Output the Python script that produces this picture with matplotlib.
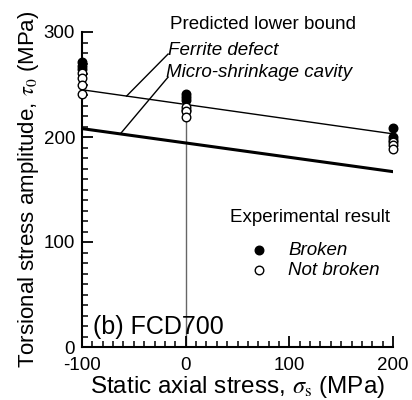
import matplotlib
matplotlib.use("Agg")
import matplotlib.pyplot as plt
import numpy as np

plt.rcParams['font.family'] = ['Liberation Sans', 'DejaVu Sans']
plt.rcParams['mathtext.fontset'] = 'stix'
plt.rcParams['axes.unicode_minus'] = False

# experimental data (MPa)
broken_x = [-100, -100, -100, 0, 0, 0, 0, 200, 200, 200]
broken_y = [271, 268, 265, 241, 238, 235, 226, 209, 200, 197]
notbroken_x = [-100, -100, -100, -100, 0, 0, 0, 200, 200, 200]
notbroken_y = [261, 256, 250, 241, 229, 225, 219, 195, 192, 189]

# predicted lower bounds
bound_x = [-100, 200]
ferrite_y = [245, 203]
shrink_y = [208, 167]

fig = plt.figure(figsize=(4.12, 4.0), dpi=100)
ax = fig.add_axes([0.199, 0.1325, 0.755, 0.7875])

ax.plot([0, 0], [0, 219], color='#666666', lw=1.0, zorder=1)
ax.plot(bound_x, ferrite_y, color='black', lw=1.0, zorder=2)
ax.plot(bound_x, shrink_y, color='black', lw=2.2, zorder=2)

ax.scatter(broken_x, broken_y, s=38, facecolor='black', edgecolor='black', lw=1.0, zorder=4, clip_on=False)
ax.scatter(notbroken_x, notbroken_y, s=38, facecolor='white', edgecolor='black', lw=1.0, zorder=5, clip_on=False)

ax.set_xlim(-100, 200)
ax.set_ylim(0, 300)
ax.spines['top'].set_visible(False)
ax.spines['right'].set_visible(False)
ax.spines['left'].set_linewidth(1.5)
ax.spines['bottom'].set_linewidth(1.5)
ax.set_xticks([-100, 0, 100, 200])
ax.set_yticks([0, 100, 200, 300])
ax.set_xticks(np.arange(-100, 201, 10), minor=True)
ax.set_yticks(np.arange(0, 301, 10), minor=True)
ax.tick_params(which='major', direction='in', length=8, width=1.3, labelsize=13.5)
ax.tick_params(axis='x', which='major', pad=7)
ax.tick_params(axis='y', which='major', pad=5)
ax.tick_params(which='minor', direction='in', length=4, width=1.1)

ax.set_xlabel(r'Static axial stress, $\sigma_{\mathrm{s}}$ (MPa)', fontsize=17.5, labelpad=0)
ax.set_ylabel(r'Torsional stress amplitude, $\tau_0$ (MPa)', fontsize=16, labelpad=2)

ax.text(-15, 307, 'Predicted lower bound', fontsize=13.5, va='center', clip_on=False)
ax.text(-17, 282, 'Ferrite defect', fontsize=13.5, style='italic', va='center')
ax.text(-19, 261, 'Micro-shrinkage cavity', fontsize=13.5, style='italic', va='center')
ax.plot([-17, -57], [279, 239], color='black', lw=1.0)
ax.plot([-17, -63], [257, 203], color='black', lw=1.0)

ax.text(43, 123, 'Experimental result', fontsize=13.5, va='center')
ax.scatter([71], [92], s=38, facecolor='black', edgecolor='black', lw=1.0, clip_on=False)
ax.scatter([71], [73], s=38, facecolor='white', edgecolor='black', lw=1.0, clip_on=False)
ax.text(99, 92, 'Broken', fontsize=13.5, style='italic', va='center')
ax.text(99, 73, 'Not broken', fontsize=13.5, style='italic', va='center')

ax.text(-89, 19, '(b) FCD700', fontsize=18, va='center')

fig.savefig('out.png', dpi=100)
